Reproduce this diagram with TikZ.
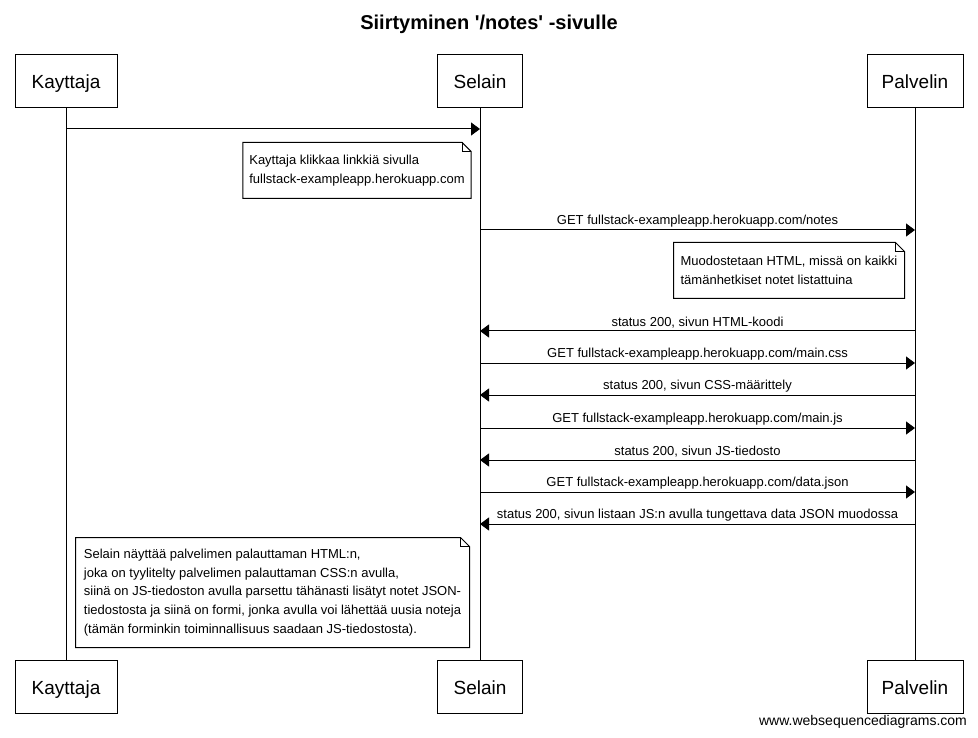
\documentclass[tikz,border=0pt]{standalone}
\usepackage{fontspec}
\setmainfont{Liberation Sans}
\usepackage{tikz}
\usetikzlibrary{arrows.meta, positioning, calc}

\tikzset{
    actor/.style={draw, minimum height=53pt, inner sep=0pt, text height=19pt, text depth=4pt, font=\fontsize{19}{22}\selectfont},
    msg/.style={-{Triangle[length=9pt,width=13pt]}},
    lbl/.style={above, inner sep=2pt, font=\fontsize{13}{15}\selectfont},
    notetext/.style={inner sep=6pt, align=left, font=\fontsize{13}{18.6}\selectfont},
}

% note outline with folded corner
\newcommand{\dogear}[1]{%
    \draw (#1.north west) -- ($(#1.north east)+(-9,0)$) -- ($(#1.north east)+(0,9)$)
        -- (#1.south east) -- (#1.south west) -- cycle;
    \draw ($(#1.north east)+(-9,0)$) |- ($(#1.north east)+(0,9)$);
}

\begin{document}
\begin{tikzpicture}[x=1pt, y=-1pt, line width=1pt]
        \useasboundingbox (0,0) rectangle (978,738);

        \node[font=\bfseries\fontsize{20}{24}\selectfont] (title) at (489,24) {Siirtyminen \textquotesingle/notes\textquotesingle\ -sivulle};

        % Participants
        \node[actor, minimum width=102pt] (k1) at (66,81.5) {Kayttaja};
        \node[actor, minimum width=85pt] (s1) at (480,81.5) {Selain};
        \node[actor, minimum width=96pt] (p1) at (915,81.5) {Palvelin};
        \node[actor, minimum width=102pt] (k2) at (66,687) {Kayttaja};
        \node[actor, minimum width=85pt] (s2) at (480,687) {Selain};
        \node[actor, minimum width=96pt] (p2) at (915,687) {Palvelin};

        \draw (k1.south) -- (k2.north);
        \draw (s1.south) -- (s2.north);
        \draw (p1.south) -- (p2.north);

        % Messages
        \draw[msg] (k1.south |- 0,129) -- (s1.south |- 0,129);
        \foreach \a/\b/\y/\txt in {
                s1/p1/230/{GET fullstack-exampleapp.herokuapp.com/notes},
                p1/s1/331/{status 200, sivun HTML-koodi},
                s1/p1/363/{GET fullstack-exampleapp.herokuapp.com/main.css},
                p1/s1/395/{status 200, sivun CSS-määrittely},
                s1/p1/428/{GET fullstack-exampleapp.herokuapp.com/main.js},
                p1/s1/460/{status 200, sivun JS-tiedosto},
                s1/p1/492/{GET fullstack-exampleapp.herokuapp.com/data.json},
                p1/s1/524/{status 200, sivun listaan JS:n avulla tungettava data JSON muodossa}} {
                \draw[msg] (\a.south |- 0,\y) -- node[lbl] {\txt} (\b.south |- 0,\y);
            }

        % Notes
        \node[notetext, minimum width=224pt, minimum height=55pt] (n1) at (357,170.5)
            {Kayttaja klikkaa linkkiä sivulla\\fullstack-exampleapp.herokuapp.com};
        \dogear{n1}
        \node[notetext, minimum width=230pt, minimum height=55pt] (n2) at (789,270.5)
            {Muodostetaan HTML, missä on kaikki\\tämänhetkiset notet listattuina};
        \dogear{n2}
        \node[notetext, minimum width=393pt, minimum height=109pt] (n3) at (272.5,592.5)
            {Selain näyttää palvelimen palauttaman HTML:n,\\
             joka on tyylitelty palvelimen palauttaman CSS:n avulla,\\
             siinä on JS-tiedoston avulla parsettu tähänasti lisätyt notet JSON-\\
             tiedostosta ja siinä on formi, jonka avulla voi lähettää uusia noteja\\
             (tämän forminkin toiminnallisuus saadaan JS-tiedostosta).};
        \dogear{n3}

        \node[font=\fontsize{14}{16}\selectfont] (wsd) at (863,722) {www.websequencediagrams.com};

    \end{tikzpicture}
\end{document}
